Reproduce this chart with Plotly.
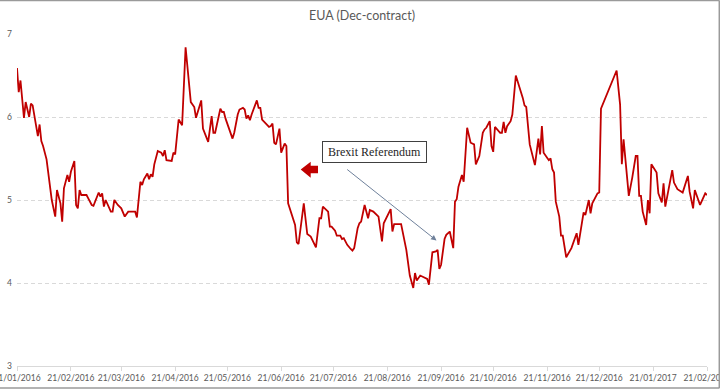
import plotly.graph_objects as go

# ---------------- data ----------------
dates = [
    "2016-01-21", "2016-01-22", "2016-01-23", "2016-01-25", "2016-01-26", "2016-01-28", "2016-01-29", "2016-01-30",
    "2016-02-02", "2016-02-03", "2016-02-04", "2016-02-05", "2016-02-07", "2016-02-08", "2016-02-10", "2016-02-12",
    "2016-02-13", "2016-02-15", "2016-02-16", "2016-02-17", "2016-02-19", "2016-02-20", "2016-02-21", "2016-02-23",
    "2016-02-24", "2016-02-25", "2016-02-26", "2016-02-27", "2016-03-01", "2016-03-02", "2016-03-04", "2016-03-05",
    "2016-03-08", "2016-03-09", "2016-03-10", "2016-03-11", "2016-03-12", "2016-03-15", "2016-03-16", "2016-03-17",
    "2016-03-19", "2016-03-21", "2016-03-23", "2016-03-25", "2016-03-29", "2016-03-30", "2016-04-01", "2016-04-02",
    "2016-04-03", "2016-04-05", "2016-04-06", "2016-04-07", "2016-04-08", "2016-04-09", "2016-04-11", "2016-04-13",
    "2016-04-14", "2016-04-15", "2016-04-16", "2016-04-19", "2016-04-20", "2016-04-21", "2016-04-23", "2016-04-25",
    "2016-04-27", "2016-04-30", "2016-05-02", "2016-05-03", "2016-05-06", "2016-05-07", "2016-05-10", "2016-05-12",
    "2016-05-13", "2016-05-14", "2016-05-17", "2016-05-18", "2016-05-19", "2016-05-20", "2016-05-24", "2016-05-25",
    "2016-05-27", "2016-05-28", "2016-05-30", "2016-05-31", "2016-06-01", "2016-06-02", "2016-06-03", "2016-06-04",
    "2016-06-05", "2016-06-07", "2016-06-08", "2016-06-09", "2016-06-10", "2016-06-12", "2016-06-14", "2016-06-15",
    "2016-06-16", "2016-06-17", "2016-06-18", "2016-06-20", "2016-06-21", "2016-06-23", "2016-06-24", "2016-06-25",
    "2016-06-27", "2016-06-29", "2016-06-30", "2016-07-01", "2016-07-04", "2016-07-06", "2016-07-08", "2016-07-11",
    "2016-07-13", "2016-07-14", "2016-07-15", "2016-07-18", "2016-07-19", "2016-07-20", "2016-07-22", "2016-07-23",
    "2016-07-25", "2016-07-26", "2016-07-27", "2016-07-29", "2016-07-31", "2016-08-01", "2016-08-02", "2016-08-04",
    "2016-08-05", "2016-08-06", "2016-08-08", "2016-08-10", "2016-08-11", "2016-08-13", "2016-08-16", "2016-08-18",
    "2016-08-19", "2016-08-21", "2016-08-23", "2016-08-24", "2016-08-25", "2016-08-29", "2016-08-31", "2016-09-01",
    "2016-09-03", "2016-09-05", "2016-09-06", "2016-09-07", "2016-09-09", "2016-09-12", "2016-09-13", "2016-09-14",
    "2016-09-16", "2016-09-18", "2016-09-19", "2016-09-20", "2016-09-21", "2016-09-23", "2016-09-24", "2016-09-26",
    "2016-09-28", "2016-09-29", "2016-09-30", "2016-10-01", "2016-10-03", "2016-10-04", "2016-10-06", "2016-10-08",
    "2016-10-10", "2016-10-11", "2016-10-13", "2016-10-15", "2016-10-16", "2016-10-17", "2016-10-19", "2016-10-20",
    "2016-10-21", "2016-10-22", "2016-10-23", "2016-10-25", "2016-10-26", "2016-10-27", "2016-10-28", "2016-10-29",
    "2016-10-31", "2016-11-01", "2016-11-03", "2016-11-05", "2016-11-07", "2016-11-08", "2016-11-09", "2016-11-11",
    "2016-11-13", "2016-11-14", "2016-11-16", "2016-11-17", "2016-11-18", "2016-11-19", "2016-11-21", "2016-11-22",
    "2016-11-23", "2016-11-24", "2016-11-25", "2016-11-26", "2016-11-28", "2016-11-29", "2016-11-30", "2016-12-02",
    "2016-12-05", "2016-12-08", "2016-12-09", "2016-12-12", "2016-12-13", "2016-12-15", "2016-12-16", "2016-12-17",
    "2016-12-20", "2016-12-21", "2016-12-22", "2016-12-25", "2016-12-28", "2016-12-31", "2017-01-02", "2017-01-03",
    "2017-01-04", "2017-01-07", "2017-01-09", "2017-01-11", "2017-01-12", "2017-01-13", "2017-01-14", "2017-01-15",
    "2017-01-17", "2017-01-18", "2017-01-19", "2017-01-20", "2017-01-23", "2017-01-24", "2017-01-26", "2017-01-27",
    "2017-01-28", "2017-01-30", "2017-02-01", "2017-02-02", "2017-02-04", "2017-02-07", "2017-02-10", "2017-02-11",
    "2017-02-13", "2017-02-14", "2017-02-17", "2017-02-20", "2017-02-21",
]

eua_price = [
    6.59, 6.30, 6.44, 5.99, 6.18, 6.00, 6.16, 6.14,
    5.77, 5.91, 5.71, 5.65, 5.49, 5.33, 5.00, 4.80,
    5.12, 4.96, 4.74, 5.14, 5.30, 5.22, 5.34, 5.47,
    4.94, 4.90, 5.12, 5.06, 5.06, 5.02, 4.94, 4.93,
    5.09, 5.04, 5.08, 4.92, 5.00, 4.86, 4.86, 5.00,
    4.94, 4.90, 4.80, 4.86, 4.86, 4.79, 5.22, 5.18,
    5.25, 5.32, 5.25, 5.31, 5.28, 5.43, 5.59, 5.57,
    5.53, 5.60, 5.48, 5.47, 5.57, 5.55, 5.97, 5.90,
    6.84, 6.18, 6.12, 5.99, 6.20, 5.86, 5.70, 6.01,
    5.81, 5.81, 6.10, 6.06, 6.06, 5.98, 5.74, 5.81,
    6.03, 6.09, 6.11, 6.09, 5.98, 6.02, 5.96, 6.03,
    6.09, 6.20, 6.11, 6.11, 5.97, 5.92, 5.88, 5.89,
    5.92, 5.69, 5.67, 5.86, 5.57, 5.68, 5.65, 4.96,
    4.82, 4.70, 4.49, 4.47, 4.96, 4.59, 4.56, 4.43,
    4.78, 4.78, 4.92, 4.86, 4.68, 4.68, 4.63, 4.57,
    4.57, 4.53, 4.54, 4.46, 4.41, 4.39, 4.42, 4.66,
    4.72, 4.74, 4.94, 4.78, 4.88, 4.86, 4.80, 4.50,
    4.72, 4.80, 4.89, 4.62, 4.71, 4.71, 4.53, 4.40,
    4.09, 3.94, 4.12, 4.03, 4.09, 4.06, 4.05, 3.98,
    4.37, 4.38, 4.40, 4.17, 4.22, 4.53, 4.58, 4.62,
    4.42, 4.98, 5.01, 5.16, 5.30, 5.22, 5.87, 5.69,
    5.67, 5.43, 5.53, 5.81, 5.85, 5.87, 5.95, 5.65,
    5.58, 5.88, 5.86, 5.81, 5.81, 5.94, 5.81, 5.89,
    5.95, 6.03, 6.50, 6.37, 6.23, 6.14, 6.12, 5.67,
    5.51, 5.42, 5.74, 5.55, 5.89, 5.57, 5.51, 5.48,
    5.50, 5.37, 5.33, 4.98, 4.80, 4.57, 4.57, 4.31,
    4.42, 4.60, 4.46, 4.85, 4.82, 5.00, 4.84, 4.96,
    5.08, 5.09, 6.10, 6.25, 6.41, 6.56, 6.15, 5.43,
    5.73, 5.05, 5.27, 5.53, 5.53, 5.05, 5.05, 4.86,
    4.70, 5.00, 4.84, 5.43, 5.33, 5.08, 4.97, 5.20,
    4.92, 5.13, 5.36, 5.21, 5.13, 5.09, 5.29, 5.10,
    4.90, 5.12, 4.94, 5.08, 5.06,
]

tick_dates = [
    "2016-01-21", "2016-02-21", "2016-03-21", "2016-04-21", "2016-05-21", "2016-06-21", "2016-07-21",
    "2016-08-21", "2016-09-21", "2016-10-21", "2016-11-21", "2016-12-21", "2017-01-21", "2017-02-21",
]
tick_labels = [
    "21/01/2016", "21/02/2016", "21/03/2016", "21/04/2016", "21/05/2016", "21/06/2016", "21/07/2016",
    "21/08/2016", "21/09/2016", "21/10/2016", "21/11/2016", "21/12/2016", "21/01/2017", "21/02/2017",
]
y_ticks = [3, 4, 5, 6, 7]

chart_title = "EUA (Dec-contract)"
callout_text = "Brexit Referendum"

# ---------------- layout helpers ----------------
W, H = 720, 389
ML, MR, MT, MB = 17, 13, 34, 23
PW, PH = W - ML - MR, H - MT - MB


def px(x):
    return (x - ML) / PW


def py(y):
    return (H - MB - y) / PH


fig = go.Figure()
fig.add_trace(go.Scatter(
    x=dates, y=eua_price, mode="lines",
    line=dict(color="#c00000", width=1.8),
    hoverinfo="x+y", showlegend=False,
))

grey_txt = "#595959"
fig.update_layout(
    width=W, height=H,
    margin=dict(l=ML, r=MR, t=MT, b=MB, autoexpand=False),
    paper_bgcolor="white", plot_bgcolor="white",
    title=dict(text=chart_title, x=0.5, xanchor="center", xref="paper",
               y=1 - 16 / H, yanchor="middle",
               font=dict(family="Lato", size=12.5, color=grey_txt)),
    font=dict(family="Lato", color=grey_txt),
    xaxis=dict(
        type="date", range=[tick_dates[0], tick_dates[-1]],
        tickvals=tick_dates, ticktext=tick_labels,
        tickfont=dict(family="Lato", size=8.5, color=grey_txt),
        showgrid=False, showline=True, linecolor="#d9d9d9", linewidth=1,
        ticks="outside", ticklen=4, tickcolor="#d9d9d9",
        automargin=False, zeroline=False, ticklabeloverflow="allow",
    ),
    yaxis=dict(
        range=[3, 7], tickvals=y_ticks,
        tickfont=dict(family="Lato", size=8.5, color=grey_txt),
        showgrid=True, gridcolor="#d9d9d9", griddash="4px,3px", gridwidth=1,
        zeroline=False, showline=False, ticks="", automargin=False,
        ticklabelstandoff=4,
    ),
)

# callout box
fig.add_annotation(
    xref="paper", yref="paper", x=px(374.8), y=py(151.5),
    xanchor="center", yanchor="middle",
    text=callout_text, showarrow=False,
    font=dict(family="Liberation Serif", size=12, color="#262626"),
    bgcolor="white", bordercolor="#404040", borderwidth=1, borderpad=1,
    width=101, height=18,
)
# thin pointer arrow
fig.add_annotation(
    xref="paper", yref="paper", x=px(436.5), y=py(240.5),
    text="", showarrow=True, axref="pixel", ayref="pixel",
    ax=-90.8, ay=-72.2,
    arrowhead=2, arrowsize=1.1, arrowwidth=1, arrowcolor="#6f819b",
)

# red block arrow (pointing left)
pts = [(300.7, 169.5), (310.7, 161.7), (310.7, 165.7), (318.0, 165.7),
       (318.0, 173.3), (310.7, 173.3), (310.7, 177.7)]
path = "M " + " L ".join(f"{px(a):.5f},{py(b):.5f}" for a, b in pts) + " Z"
fig.add_shape(type="path", xref="paper", yref="paper", path=path,
              fillcolor="#c00000", line=dict(width=0))

# outer frame (top, right, bottom)
for (x0, y0, x1, y1) in [(0, 0.5, 719.5, 0.5), (719.3, 0.5, 719.3, 388), (0, 388, 719.5, 388)]:
    fig.add_shape(type="line", xref="paper", yref="paper",
                  x0=px(x0), y0=py(y0), x1=px(x1), y1=py(y1),
                  line=dict(color="#9a9a9a", width=1.5))

fig.write_html("out.html", config={"displayModeBar": False},
               post_script="document.body.style.margin='0';")
